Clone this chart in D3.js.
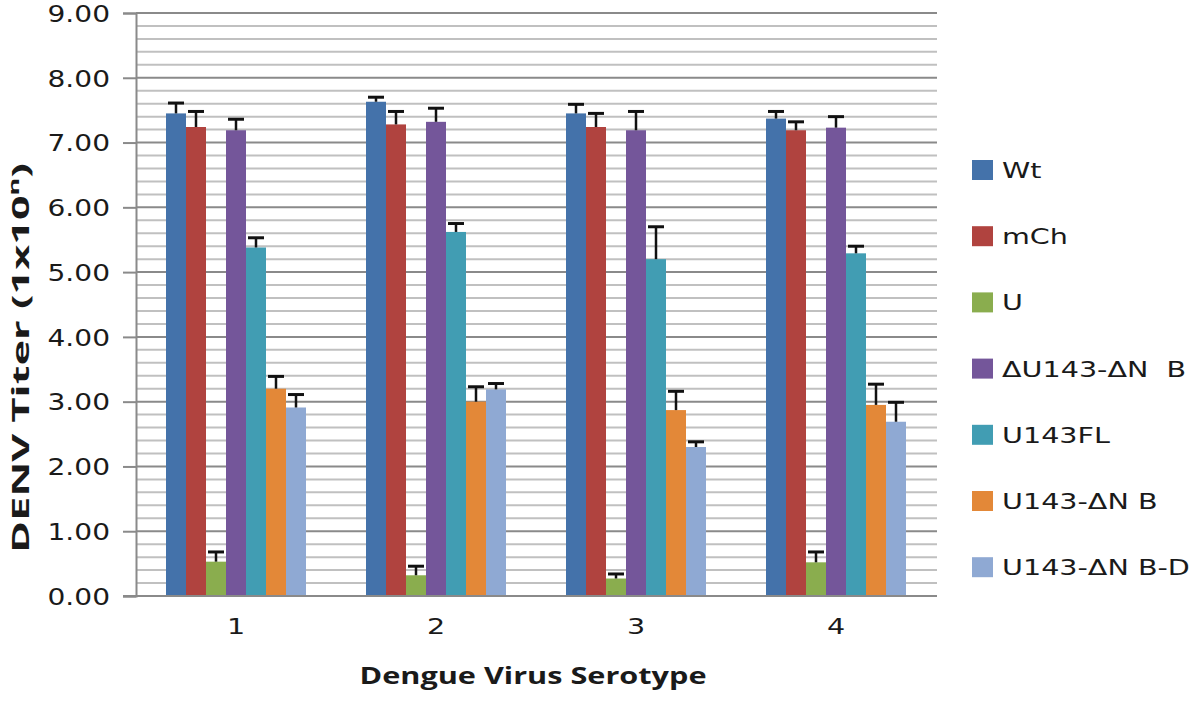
<!DOCTYPE html>
<html>
<head>
<meta charset="utf-8">
<script src="https://cdn.jsdelivr.net/npm/d3@7"></script>
<style>
  html, body { margin: 0; padding: 0; background: #fff; }
  svg { display: block; }
</style>
</head>
<body>
<svg id="chart" width="1200" height="702"></svg>
<script>
// ---- data ----
const categories = ["1", "2", "3", "4"];
const seriesNames = ["Wt", "mCh", "U", "\u0394U143-\u0394N  B", "U143FL", "U143-\u0394N B", "U143-\u0394N B-D"];
const seriesColors = ["#4472AA", "#B0433F", "#8AAD4E", "#74569A", "#419DB3", "#E38838", "#8FA9D3"];
const valWt   = [7.45, 7.63, 7.45, 7.37];
const valMCh  = [7.24, 7.28, 7.24, 7.19];
const valU    = [0.53, 0.32, 0.27, 0.52];
const valDU   = [7.19, 7.32, 7.19, 7.23];
const valFL   = [5.38, 5.62, 5.20, 5.29];
const valDNB  = [3.20, 3.00, 2.87, 2.95];
const valDNBD = [2.91, 3.19, 2.30, 2.69];
const errWt   = [0.16, 0.07, 0.14, 0.11];
const errMCh  = [0.24, 0.20, 0.21, 0.13];
const errU    = [0.15, 0.14, 0.07, 0.16];
const errDU   = [0.17, 0.21, 0.29, 0.17];
const errFL   = [0.15, 0.13, 0.50, 0.11];
const errDNB  = [0.19, 0.23, 0.29, 0.32];
const errDNBD = [0.20, 0.09, 0.08, 0.30];
const yTicks = [0, 1, 2, 3, 4, 5, 6, 7, 8, 9];
const yMinorStep = 0.2;
const yTitle = "DENV Titer (1x10";
const yTitleSup = "n";
const xTitle = "Dengue Virus Serotype";

const values = [valWt, valMCh, valU, valDU, valFL, valDNB, valDNBD];
const errors = [errWt, errMCh, errU, errDU, errFL, errDNB, errDNBD];

// ---- layout ----
const STRETCH = 1.3;
const plot = { left: 136, right: 936, top: 13, bottom: 596 };
const svg = d3.select("#chart");

const y = d3.scaleLinear().domain([0, 9]).range([plot.bottom, plot.top]);
const x0 = d3.scaleBand().domain(categories).range([plot.left, plot.right]).padding(0);
const x1 = d3.scaleBand().domain(d3.range(seriesNames.length)).range([0, x0.bandwidth()])
  .paddingInner(0).paddingOuter(1.5);

function stretch(sel, f) {
  sel.each(function () {
    const w = this.getComputedTextLength();
    d3.select(this).attr("textLength", w * (f || STRETCH)).attr("lengthAdjust", "spacingAndGlyphs");
  });
}

// minor gridlines
const minor = d3.range(0, 9.0001, yMinorStep).filter(v => Math.abs(v - Math.round(v)) > 1e-6);
svg.append("g").selectAll("line").data(minor).join("line")
  .attr("x1", plot.left).attr("x2", plot.right + 1)
  .attr("y1", d => y(d)).attr("y2", d => y(d))
  .attr("stroke", "#c0c0c0").attr("stroke-width", 2);
// major gridlines
svg.append("g").selectAll("line").data(yTicks.filter(d => d > 0)).join("line")
  .attr("x1", plot.left).attr("x2", plot.right + 1)
  .attr("y1", d => y(d)).attr("y2", d => y(d))
  .attr("stroke", "#8a8a8a").attr("stroke-width", 2);

// y axis
const yAxis = svg.append("g").attr("transform", `translate(${plot.left},0)`)
  .call(d3.axisLeft(y).tickValues(yTicks).tickFormat(d3.format(".2f")).tickSize(13).tickPadding(13));
yAxis.select(".domain").attr("stroke", "#8a8a8a").attr("stroke-width", 2);
yAxis.selectAll(".tick line").attr("stroke", "#8a8a8a").attr("stroke-width", 2);
yAxis.selectAll(".tick text").attr("font-family", "DejaVu Sans").attr("font-size", 23)
  .attr("fill", "#1a1a1a").attr("dy", "0.36em").call(stretch, 1.22);

// bars
const groups = svg.append("g").selectAll("g").data(categories).join("g")
  .attr("transform", d => `translate(${x0(d)},0)`);
groups.each(function (cat, ci) {
  const g = d3.select(this);
  const rows = seriesNames.map((s, si) => ({ si, v: values[si][ci], e: errors[si][ci] }));
  g.selectAll("rect").data(rows).join("rect")
    .attr("x", d => x1(d.si)).attr("width", x1.bandwidth())
    .attr("y", d => y(d.v)).attr("height", d => y(0) - y(d.v))
    .attr("fill", d => seriesColors[d.si]);
  const eb = g.selectAll("g.err").data(rows).join("g").attr("class", "err");
  eb.append("line")
    .attr("x1", d => x1(d.si) + x1.bandwidth() / 2).attr("x2", d => x1(d.si) + x1.bandwidth() / 2)
    .attr("y1", d => y(d.v)).attr("y2", d => y(d.v + d.e))
    .attr("stroke", "#111").attr("stroke-width", 2.5);
  eb.append("line")
    .attr("x1", d => x1(d.si) + x1.bandwidth() / 2 - 8).attr("x2", d => x1(d.si) + x1.bandwidth() / 2 + 8)
    .attr("y1", d => y(d.v + d.e)).attr("y2", d => y(d.v + d.e))
    .attr("stroke", "#111").attr("stroke-width", 3);
});

// x axis
const xAxis = svg.append("g").attr("transform", `translate(0,${plot.bottom})`)
  .call(d3.axisBottom(x0).tickSize(0).tickPadding(22));
xAxis.select(".domain").remove();
svg.append("line").attr("x1", plot.left - 13).attr("x2", plot.right + 1)
  .attr("y1", plot.bottom).attr("y2", plot.bottom)
  .attr("stroke", "#8a8a8a").attr("stroke-width", 2);
xAxis.selectAll(".tick text").attr("font-family", "DejaVu Sans").attr("font-size", 22)
  .attr("fill", "#1a1a1a").call(stretch);

// axis titles
svg.append("text").attr("x", 533).attr("y", 684).attr("text-anchor", "middle")
  .attr("font-family", "Open Sans").attr("font-weight", "bold").attr("font-size", 24)
  .attr("fill", "#1a1a1a").text(xTitle)
  .attr("textLength", 347).attr("lengthAdjust", "spacingAndGlyphs");

const yt = svg.append("text").attr("transform", "translate(29,358) rotate(-90)")
  .attr("text-anchor", "middle")
  .attr("font-family", "Open Sans").attr("font-weight", "bold").attr("font-size", 24)
  .attr("fill", "#1a1a1a")
  .attr("textLength", 390).attr("lengthAdjust", "spacingAndGlyphs");
yt.append("tspan").text(yTitle);
yt.append("tspan").text(yTitleSup).attr("font-size", 15).attr("dy", -10);
yt.append("tspan").text(")").attr("dy", 10);

// legend
const legend = svg.append("g").selectAll("g").data(seriesNames).join("g")
  .attr("transform", (d, i) => `translate(972,${170 + i * 66.2})`);
legend.append("rect").attr("x", 0).attr("y", -10).attr("width", 21).attr("height", 20)
  .attr("fill", (d, i) => seriesColors[i]);
legend.append("text").attr("x", 30).attr("y", 0).attr("dy", "0.36em")
  .attr("font-family", "DejaVu Sans").attr("font-size", 22).attr("fill", "#1a1a1a")
  .attr("xml:space", "preserve").style("white-space", "pre")
  .text(d => d).call(stretch);
</script>
</body>
</html>
